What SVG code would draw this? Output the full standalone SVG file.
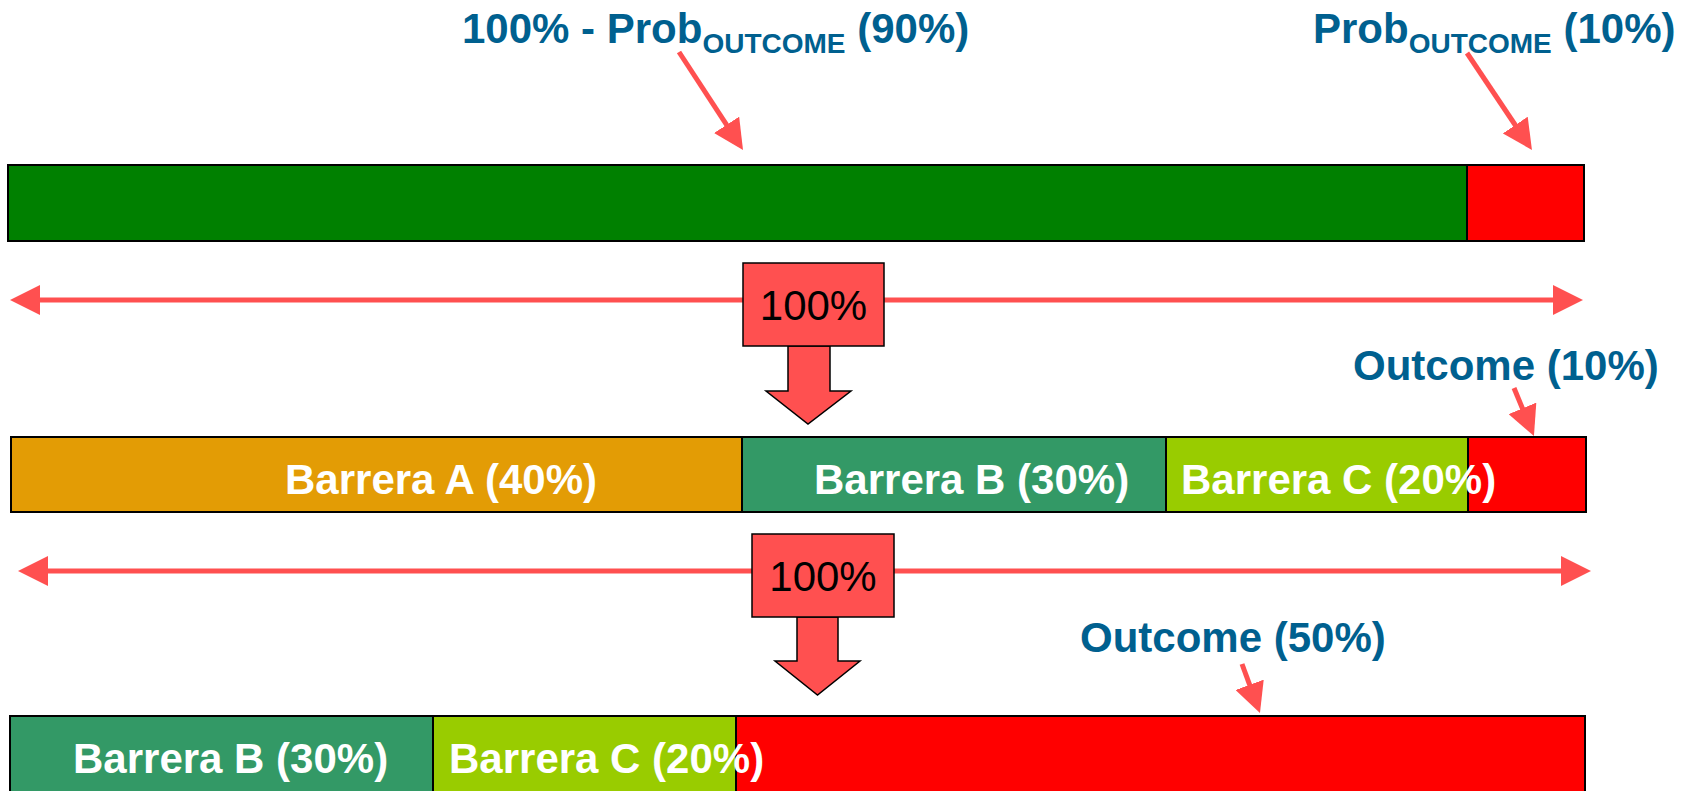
<svg xmlns="http://www.w3.org/2000/svg" width="1692" height="791" viewBox="0 0 1692 791">
<style>
.bar{stroke:#000;stroke-width:2}
.lbl{font-family:"Liberation Sans",Arial,sans-serif;font-weight:bold;font-size:42px;fill:#fff}
.ann{font-family:"Liberation Sans",Arial,sans-serif;font-weight:bold;font-size:42px;fill:#00608F}
.sub{font-size:28px}
.pct{font-family:"Liberation Sans",Arial,sans-serif;font-size:42px;fill:#000;text-anchor:middle}
.box{fill:#FF5050;stroke:#000;stroke-width:1.5}
.conn{stroke:#FF5050;stroke-width:5;fill:none}
</style>
<defs>
<marker id="ah" markerUnits="userSpaceOnUse" markerWidth="30" markerHeight="30" refX="15" refY="15" orient="auto-start-reverse" viewBox="0 0 30 30">
<path d="M0,0 L30,15 L0,30 z" fill="#FF5050"/>
</marker>
</defs>
<rect width="1692" height="791" fill="#fff"/>
<g id="connectors">
<line class="conn" x1="679" y1="52" x2="734.8" y2="137.4" marker-end="url(#ah)"/>
<line class="conn" x1="1467" y1="53" x2="1523.6" y2="137.5" marker-end="url(#ah)"/>
<line class="conn" x1="25" y1="300" x2="1568" y2="300" marker-start="url(#ah)" marker-end="url(#ah)"/>
<line class="conn" x1="1514" y1="388" x2="1528.2" y2="422.2" marker-end="url(#ah)"/>
<line class="conn" x1="33" y1="571" x2="1576" y2="571" marker-start="url(#ah)" marker-end="url(#ah)"/>
<line class="conn" x1="1242" y1="664" x2="1254.8" y2="698.9" marker-end="url(#ah)"/>
<polygon class="box" points="788,346 830,346 830,391 851,391 808,424 766,391 788,391"/>
<polygon class="box" points="797,617 838,617 838,661 860,661 817.5,695 775,661 797,661"/>
</g>
<g id="bar1">
<rect class="bar" x="8" y="165" width="1459" height="76" fill="#008000"/>
<rect class="bar" x="1467" y="165" width="117" height="76" fill="#FF0000"/>
</g>
<g id="label-90">
<text class="ann" x="462" y="43">100% - Prob<tspan class="sub" dy="10">OUTCOME</tspan><tspan dy="-10"> (90%)</tspan></text>
</g>
<g id="label-10">
<text class="ann" x="1313" y="43">Prob<tspan class="sub" dy="10">OUTCOME</tspan><tspan dy="-10"> (10%)</tspan></text>
</g>
<g id="box1">
<rect class="box" x="743" y="263" width="141" height="83"/>
<text class="pct" x="813.5" y="320">100%</text>
</g>
<g id="bar2">
<rect class="bar" x="11" y="437" width="731" height="75" fill="#E39C05"/>
<rect class="bar" x="742" y="437" width="424" height="75" fill="#339966"/>
<rect class="bar" x="1166" y="437" width="302" height="75" fill="#99CC00"/>
<rect class="bar" x="1468" y="437" width="118" height="75" fill="#FF0000"/>
<text class="lbl" x="285" y="494">Barrera A (40%)</text>
<text class="lbl" x="814" y="494">Barrera B (30%)</text>
<text class="lbl" x="1181" y="494">Barrera C (20%)</text>
</g>
<g id="label-outcome10">
<text class="ann" x="1353" y="380">Outcome (10%)</text>
</g>
<g id="box2">
<rect class="box" x="752" y="534" width="142" height="83"/>
<text class="pct" x="823" y="591">100%</text>
</g>
<g id="bar3">
<rect class="bar" x="10" y="716" width="423" height="78" fill="#339966"/>
<rect class="bar" x="433" y="716" width="303" height="78" fill="#99CC00"/>
<rect class="bar" x="736" y="716" width="849" height="78" fill="#FF0000"/>
<text class="lbl" x="73" y="773">Barrera B (30%)</text>
<text class="lbl" x="449" y="773">Barrera C (20%)</text>
</g>
<g id="label-outcome50">
<text class="ann" x="1080" y="652">Outcome (50%)</text>
</g>
</svg>
